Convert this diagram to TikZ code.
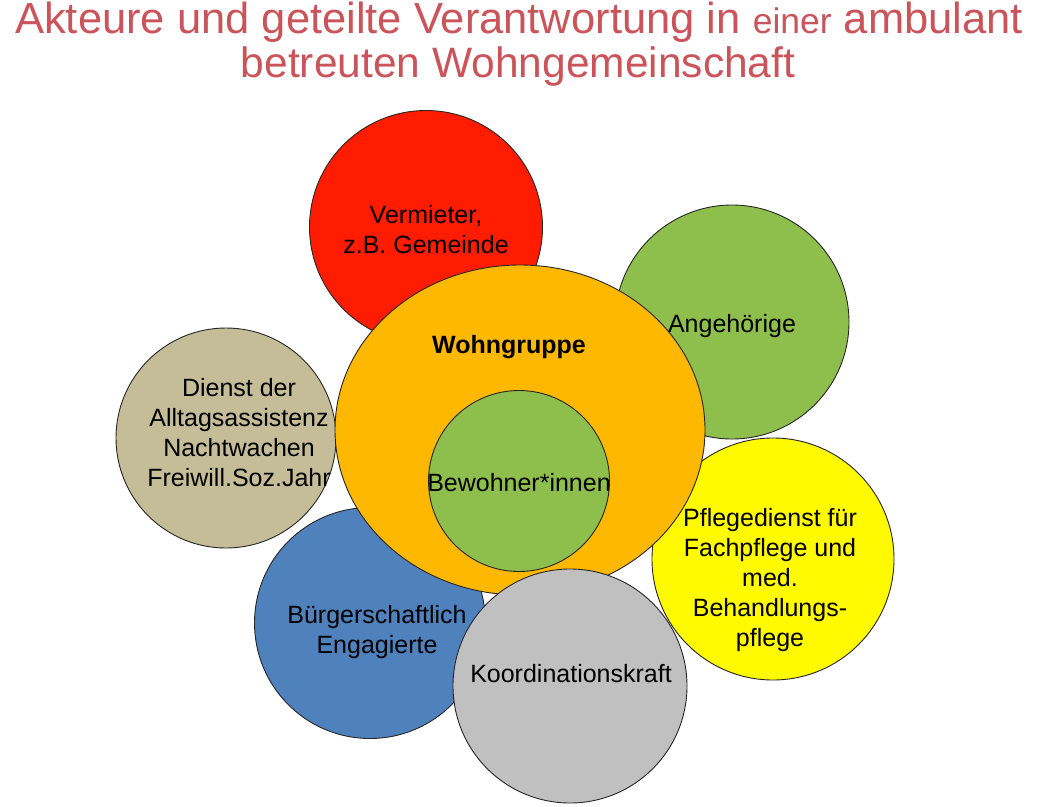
\documentclass[tikz,border=0pt]{standalone}
\usepackage{fontspec}
\setmainfont{Liberation Sans}
\usetikzlibrary{shapes.geometric}
\definecolor{titelrot}{RGB}{202,84,90}
\definecolor{rot}{RGB}{255,28,0}
\definecolor{gruen}{RGB}{142,190,76}
\definecolor{gelb}{RGB}{255,250,0}
\definecolor{wgorange}{RGB}{255,184,0}
\definecolor{grau}{RGB}{192,192,192}
\definecolor{blau}{RGB}{79,129,189}
\definecolor{beige}{RGB}{196,189,151}
\begin{document}
\begin{tikzpicture}[x=1pt,y=-1pt,
    kreis/.style={circle,draw=black!85,line width=0.9pt,inner sep=0pt},
    txt/.style={align=center,inner sep=0pt,font=\fontsize{25}{30}\selectfont},
    titel/.style={anchor=base,inner sep=0pt,text=titelrot,
      font=\fontsize{42.5}{50}\selectfont}]
  \useasboundingbox (0,0) rectangle (1046,806);
  % Titel
  \node[titel,font=\fontsize{43.5}{50}\selectfont] (titel1) at (519,33)
    {Akteure und geteilte Verantwortung in {\fontsize{35.5}{40}\selectfont einer} ambulant};
  \node[titel] (titel2) at (518,77) {betreuten Wohngemeinschaft};
  % Akteure aussen
  \node[kreis,fill=rot,minimum size=233] (vermieter) at (426,227) {};
  \node[kreis,fill=gruen,minimum size=234] (angeh) at (732,322) {};
  \node[kreis,fill=gelb,minimum size=242] (pflege) at (773,559) {};
  \node[kreis,fill=blau,minimum size=231] (buerger) at (370,623) {};
  \node[kreis,fill=beige,minimum size=220] (dienst) at (226,438) {};
  % Wohngruppe mit Bewohnern
  \node[ellipse,draw=black!85,line width=0.9pt,fill=wgorange,
    minimum width=370,minimum height=330,inner sep=0pt] (wg) at (520,430) {};
  \node[kreis,fill=gruen,minimum size=181] (bewohner) at (519,481) {};
  \node[kreis,fill=grau,minimum size=234] (koord) at (570,686) {};
  % Texte
  \node[txt] (vermieterT) at (vermieter) [yshift=-3] {Vermieter,\\z.B. Gemeinde};
  \node[txt] (angehT) at (732,326) {Angehörige};
  \node[txt,font=\fontsize{25}{30}\selectfont\bfseries] (wgT) at (509,347) {Wohngruppe};
  \node[txt] (bewohnerT) at (519,483) {Bewohner*innen};
  \node[txt] (dienstT) at (239,433) {Dienst der\\Alltagsassistenz\\Nachtwachen\\Freiwill.Soz.Jahr};
  \node[txt] (pflegeT) at (770,580) {Pflegedienst für\\Fachpflege und\hspace*{14pt}\\med.\\Behandlungs-\\pflege};
  \node[txt] (buergerT) at (377,632) {Bürgerschaftlich\\Engagierte};
  \node[txt] (koordT) at (571,674) {Koordinationskraft};
\end{tikzpicture}
\end{document}
